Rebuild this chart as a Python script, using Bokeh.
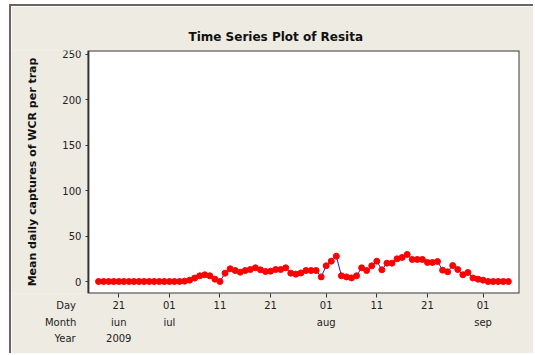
import numpy as np
import pandas as pd
from bokeh.plotting import figure
from bokeh.models import (Range1d, FixedTicker, LinearAxis, ColumnDataSource,
                          BoxAnnotation)
from bokeh.embed import file_html
from bokeh.resources import INLINE

# ---------------- data ----------------
start_date = "2009-06-17"
ref_date = "2009-06-21"
resita = [0, 0, 0, 0, 0, 0, 0, 0, 0, 0, 0, 0, 0, 0, 0, 0, 0,
          0.4, 1.5, 3.8, 6.3, 7.4, 6.3, 2.6, 0, 9.2, 14, 12.1, 10.3, 12.1,
          13.2, 15.1, 12.9, 11, 11.4, 13.2, 13.2, 15.1, 9.2, 8.1, 9.4, 12.1,
          12.1, 12.1, 5.1, 17.3, 22.4, 27.9, 6.3, 5.1, 4.0, 6.3, 15.1, 12.1,
          17.3, 22.4, 12.9, 20.2, 20.2, 25, 26.5, 29.8, 24.3, 24.3, 24.3, 21,
          21, 22, 12.5, 10.7, 17.6, 13.2, 7.4, 9.9, 3.9, 2.6, 1.5,
          0, 0, 0, 0, 0]
tick_dates = ["2009-06-21", "2009-07-01", "2009-07-11", "2009-07-21",
              "2009-08-01", "2009-08-11", "2009-08-21", "2009-09-01"]
day_labels = ["21", "01", "11", "21", "01", "11", "21", "01"]
month_labels = ["iun", "iul", "", "", "aug", "", "", "sep"]
year_labels = ["2009", "", "", "", "", "", "", ""]
row_names = ["Day", "Month", "Year"]
y_ticks = [0, 50, 100, 150, 200, 250]

title_text = "Time Series Plot of Resita"
y_title = "Mean daily captures of WCR per trap"

# ---------------- derived ----------------
dates = pd.date_range(start_date, periods=len(resita), freq="D")
ref = pd.Timestamp(ref_date)
x_days = [(d - ref).days for d in dates]
tick_x = [(pd.Timestamp(t) - ref).days for t in tick_dates]
src = ColumnDataSource(dict(x=x_days, y=resita))

FONT = "DejaVu Sans"
BG = "#EEEBE2"
TXT = "#222222"

X0, X1 = -21.2, 79.2          # whole frame (incl. beige strip for row names)
PLOT_LEFT = -6.0              # left edge of the white plotting area
NAME_POS = {"Day": -10.4, "Month": -11.5, "Year": -10.6}

p = figure(width=524, height=349, output_backend="svg", toolbar_location=None,
           x_range=Range1d(X0, X1), y_range=Range1d(-13.2, 254.4),
           min_border_left=0, min_border_right=16, min_border_top=44,
           min_border_bottom=62, x_axis_type=None, y_axis_type=None,
           title=title_text)
p.styles = {"margin-left": "9px", "margin-top": "4px",
            "border-left": "2px solid #666666", "border-top": "2px solid #666666"}
p.background_fill_color = BG
p.border_fill_color = BG
p.outline_line_color = None
p.grid.visible = False

p.title.align = "left"
p.title.offset = 177
p.title.standoff = 13
p.title.text_font = FONT
p.title.text_font_style = "bold"
p.title.text_font_size = "12px"
p.title.text_color = "#111111"

# white plotting area with its frame
p.add_layout(BoxAnnotation(left=PLOT_LEFT, fill_color="white", fill_alpha=1.0,
                           line_color="#333333", line_alpha=1.0, line_width=2,
                           level="underlay"))

# y axis, drawn at the left edge of the plotting area
yax = LinearAxis(ticker=FixedTicker(ticks=y_ticks), fixed_location=PLOT_LEFT)
yax.axis_line_color = None
yax.major_tick_in = 0
yax.major_tick_out = 3
yax.major_tick_line_color = "#333333"
yax.minor_tick_line_color = None
yax.major_label_text_font = FONT
yax.major_label_text_font_size = "10px"
yax.major_label_text_color = TXT
yax.major_label_standoff = 4
yax.axis_label = y_title
yax.axis_label_text_font = FONT
yax.axis_label_text_font_style = "bold"
yax.axis_label_text_font_size = "11px"
yax.axis_label_text_color = "#111111"
yax.axis_label_standoff = 20
p.add_layout(yax, "left")

# x axis tick marks only
tax = LinearAxis(ticker=FixedTicker(ticks=tick_x))
tax.major_label_overrides = {t: "" for t in tick_x}
tax.axis_line_color = None
tax.major_tick_in = 0
tax.major_tick_out = 4
tax.major_tick_line_color = "#333333"
tax.minor_tick_line_color = None
tax.major_label_text_font_size = "1px"
tax.major_label_standoff = 0
p.add_layout(tax, "below")

# date rows (each with its row name at the left)
def row_axis(name, labels, standoff):
    ticks = [NAME_POS[name]] + tick_x
    ax = LinearAxis(ticker=FixedTicker(ticks=ticks))
    ax.major_label_overrides = dict(zip(ticks, [name] + labels))
    ax.axis_line_color = None
    ax.major_tick_in = 0
    ax.major_tick_out = 0
    ax.major_tick_line_color = None
    ax.minor_tick_line_color = None
    ax.major_label_text_font = FONT
    ax.major_label_text_font_size = "10px"
    ax.major_label_text_color = TXT
    ax.major_label_standoff = standoff
    return ax

p.add_layout(row_axis("Day", day_labels, 2), "below")
p.add_layout(row_axis("Month", month_labels, 3), "below")
p.add_layout(row_axis("Year", year_labels, 2), "below")

# series
p.line("x", "y", source=src, line_color="#1a1aff", line_width=1)
p.scatter("x", "y", source=src, size=6, fill_color="#ff0000", line_color="#ff0000")

open("out.html", "w").write(file_html(p, INLINE))
